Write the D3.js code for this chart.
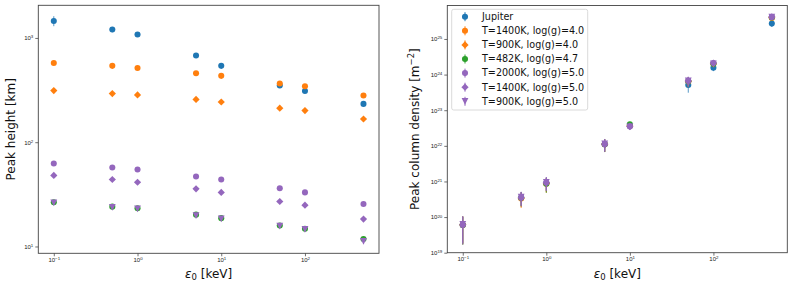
<!DOCTYPE html>
<html>
<head>
<meta charset="utf-8">
<title>peak height / column density</title>
<style>
body { margin: 0; background: #fff; }
svg { font-family: "DejaVu Sans", sans-serif; }
</style>
</head>
<body>
<svg id="chart" width="793" height="287"></svg>
<script src="https://d3js.org/d3.v7.min.js"></script>
<script>
var energies = [0.1, 0.5, 1, 5, 10, 50, 100, 500];
var seriesNames = ["Jupiter", "T=1400K, log(g)=4.0", "T=900K, log(g)=4.0", "T=482K, log(g)=4.7",
                   "T=2000K, log(g)=5.0", "T=1400K, log(g)=5.0", "T=900K, log(g)=5.0"];
var seriesColors = ["#1f77b4", "#ff7f0e", "#ff7f0e", "#2ca02c", "#9467bd", "#9467bd", "#9467bd"];
var seriesMarkers = ["circle", "circle", "diamond", "circle", "circle", "diamond", "triangle"];

// peak height [km]
var heightJupiter = [1456, 1204, 1078, 678, 540, 350, 310, 233];
var height1400g40 = [575, 540, 515, 459, 433, 366, 344, 281];
var height900g40  = [313, 293, 284, 257, 243, 212, 201, 167];
var height482g47  = [26.6, 24.1, 23.3, 20.2, 18.7, 15.9, 14.8, 11.8];
var height2000g50 = [62.5, 57.2, 54.7, 46.9, 43.9, 36.2, 33.0, 25.5];
var height1400g50 = [48.0, 43.9, 41.3, 35.7, 33.0, 27.0, 24.9, 18.3];
var height900g50  = [26.2, 23.7, 22.9, 19.8, 18.4, 15.7, 14.6, 11.2];
var heightErrJupiter = [160, 70, 30, 20, 15, 10, 8, 5];
var heightErrModel   = [0, 0, 0, 0, 0, 0, 0, 0];

// peak column density [m^-2]
var densJupiter = [6.0e19, 3.5e20, 9.0e20, 1.10e22, 3.6e22, 5.1e23, 1.55e24, 2.7e25];
var dens1400g40 = [6.0e19, 3.3e20, 8.6e20, 1.10e22, 3.6e22, 6.4e23, 2.0e24, 3.9e25];
var dens900g40  = [6.1e19, 3.4e20, 8.8e20, 1.10e22, 3.6e22, 6.5e23, 2.0e24, 4.0e25];
var dens482g47  = [6.0e19, 3.5e20, 8.6e20, 1.10e22, 4.0e22, 6.5e23, 2.0e24, 4.0e25];
var dens2000g50 = [6.0e19, 3.5e20, 9.2e20, 1.10e22, 3.5e22, 6.6e23, 2.1e24, 4.1e25];
var dens1400g50 = [6.1e19, 3.6e20, 9.3e20, 1.12e22, 3.5e22, 6.7e23, 2.1e24, 4.2e25];
var dens900g50  = [6.2e19, 3.6e20, 9.4e20, 1.13e22, 3.4e22, 6.6e23, 2.0e24, 4.1e25];
var densErr = [4.3e19, 1.5e20, 3.8e20, 4.3e21, 6e21, 2e23, 3e23, 5e24];

var heights = [heightJupiter, height1400g40, height900g40, height482g47, height2000g50, height1400g50, height900g50];
var heightErrs = [heightErrJupiter, heightErrModel, heightErrModel, heightErrModel, heightErrModel, heightErrModel, heightErrModel];
var densities = [densJupiter, dens1400g40, dens900g40, dens482g47, dens2000g50, dens1400g50, dens900g50];

var svg = d3.select("#chart");

function symbolPath(kind) {
    if (kind == "diamond") return "M0,-3.6L3.6,0L0,3.6L-3.6,0Z";
    // triangle_down centred on its bounding box, like matplotlib's "v"
    if (kind == "triangle") return "M-3.4,-3.4L3.4,-3.4L0,3.4Z";
    return d3.symbol(d3.symbolCircle, 29)();
}

function minorTicks(domain) {
    var out = [];
    var lo = Math.floor(Math.log10(domain[0])), hi = Math.ceil(Math.log10(domain[1]));
    for (var e = lo; e <= hi; e++) {
        for (var m = 2; m <= 9; m++) {
            var v = m * Math.pow(10, e);
            if (v >= domain[0] && v <= domain[1]) out.push(v);
        }
    }
    return out;
}
function majorTicks(domain) {
    var out = [];
    for (var e = Math.ceil(Math.log10(domain[0])); e <= Math.floor(Math.log10(domain[1])); e++) out.push(Math.pow(10, e));
    return out;
}

function powLabel(sel) {
    sel.each(function(d) {
        var t = d3.select(this);
        var e = Math.round(Math.log10(d));
        t.text(null);
        t.append("tspan").text("10");
        t.append("tspan").attr("dy", "-0.45em").attr("font-size", "4.4px")
            .text(String(e).replace("-", "\u2212"));
    });
}

function drawPanel(box, xDomain, yDomain, values, errs, ylabel) {
    var x = d3.scaleLog().domain(xDomain).range([box.x0, box.x1]);
    var y = d3.scaleLog().domain(yDomain).range([box.y1, box.y0]);
    var g = svg.append("g");

    // axes
    var xg = g.append("g").attr("transform", "translate(0," + box.y1 + ")");
    xg.call(d3.axisBottom(x).tickValues(minorTicks(xDomain)).tickSize(1.8).tickFormat(""));
    xg.call(d3.axisBottom(x).tickValues(majorTicks(xDomain)).tickSize(3).tickPadding(1.5));
    var yg = g.append("g").attr("transform", "translate(" + box.x0 + ",0)");
    yg.call(d3.axisLeft(y).tickValues(minorTicks(yDomain)).tickSize(1.8).tickFormat(""));
    yg.call(d3.axisLeft(y).tickValues(majorTicks(yDomain)).tickSize(3).tickPadding(2));
    g.selectAll(".domain").remove();
    g.selectAll(".tick line").attr("stroke", "#333").attr("stroke-width", 0.7);
    xg.selectAll(".tick text").attr("font-size", "6px").attr("fill", "#222").call(powLabel);
    yg.selectAll(".tick text").attr("font-size", "6px").attr("fill", "#222").call(powLabel);

    g.append("rect")
        .attr("x", box.x0).attr("y", box.y0)
        .attr("width", box.x1 - box.x0).attr("height", box.y1 - box.y0)
        .attr("fill", "none").attr("stroke", "#444").attr("stroke-width", 0.9);

    // data
    values.forEach(function(vals, s) {
        var sg = g.append("g");
        var pts = energies.map(function(e, i) { return { e: e, v: vals[i], err: errs[s][i] }; });
        sg.selectAll("line").data(pts.filter(function(p) { return p.err > 0; })).enter()
            .append("line")
            .attr("x1", function(p) { return x(p.e); })
            .attr("x2", function(p) { return x(p.e); })
            .attr("y1", function(p) { return y(Math.max(p.v - p.err, yDomain[0])); })
            .attr("y2", function(p) { return y(p.v + p.err); })
            .attr("stroke", seriesColors[s]).attr("stroke-width", 1).attr("opacity", 0.75);
        sg.selectAll("path").data(pts).enter()
            .append("path")
            .attr("d", symbolPath(seriesMarkers[s]))
            .attr("transform", function(p) { return "translate(" + x(p.e) + "," + y(p.v) + ")"; })
            .attr("fill", seriesColors[s]);
    });

    // labels
    var xl = g.append("text")
        .attr("x", (box.x0 + box.x1) / 2).attr("y", 278)
        .attr("text-anchor", "middle").attr("font-size", "12px").attr("fill", "#111");
    xl.append("tspan").attr("font-style", "italic").text("\u03b5");
    xl.append("tspan").attr("font-size", "8.5px").attr("dy", "2").text("0");
    xl.append("tspan").attr("dy", "-2").text(" [keV]");

    var yl = g.append("text")
        .attr("transform", "translate(" + box.labelX + "," + ((box.y0 + box.y1) / 2) + ") rotate(-90)")
        .attr("text-anchor", "middle").attr("font-size", "12px").attr("fill", "#111");
    ylabel(yl);
    return { x: x, y: y };
}

var xDomain = [0.0653, 766];

drawPanel({ x0: 38.3, x1: 379, y0: 5.3, y1: 253.3, labelX: 14.5 }, xDomain, [8.6, 2056],
    heights, heightErrs,
    function(t) { t.text("Peak height [km]"); });

var densErrs = densities.map(function() { return densErr; });
drawPanel({ x0: 447.3, x1: 787.3, y0: 5.5, y1: 252.7, labelX: 419 }, xDomain, [1e19, 8.7e25],
    densities, densErrs,
    function(t) {
        t.append("tspan").text("Peak column density [m");
        t.append("tspan").attr("font-size", "8.5px").attr("dy", "-5").text("\u22122");
        t.append("tspan").attr("dy", "5").text("]");
    });

// legend
var legend = svg.append("g");
legend.append("rect")
    .attr("x", 451.7).attr("y", 9.3).attr("width", 136).attr("height", 100.7).attr("rx", 2)
    .attr("fill", "#fff").attr("fill-opacity", 0.8).attr("stroke", "#d0d0d0").attr("stroke-width", 0.8);
var rows = legend.selectAll("g.row").data(seriesNames).enter().append("g")
    .attr("transform", function(d, i) { return "translate(0," + (16.7 + i * 14.1) + ")"; });
rows.append("line").attr("x1", 465).attr("x2", 465).attr("y1", -4.5).attr("y2", 4.5)
    .attr("stroke", function(d, i) { return seriesColors[i]; }).attr("stroke-width", 1);
rows.append("path")
    .attr("d", function(d, i) { return symbolPath(seriesMarkers[i]); })
    .attr("transform", "translate(465,0)")
    .attr("fill", function(d, i) { return seriesColors[i]; });
rows.append("text").attr("x", 482).attr("dy", "0.35em")
    .attr("font-size", "9.6px").attr("fill", "#111")
    .text(function(d) { return d; });
</script>
</body>
</html>
